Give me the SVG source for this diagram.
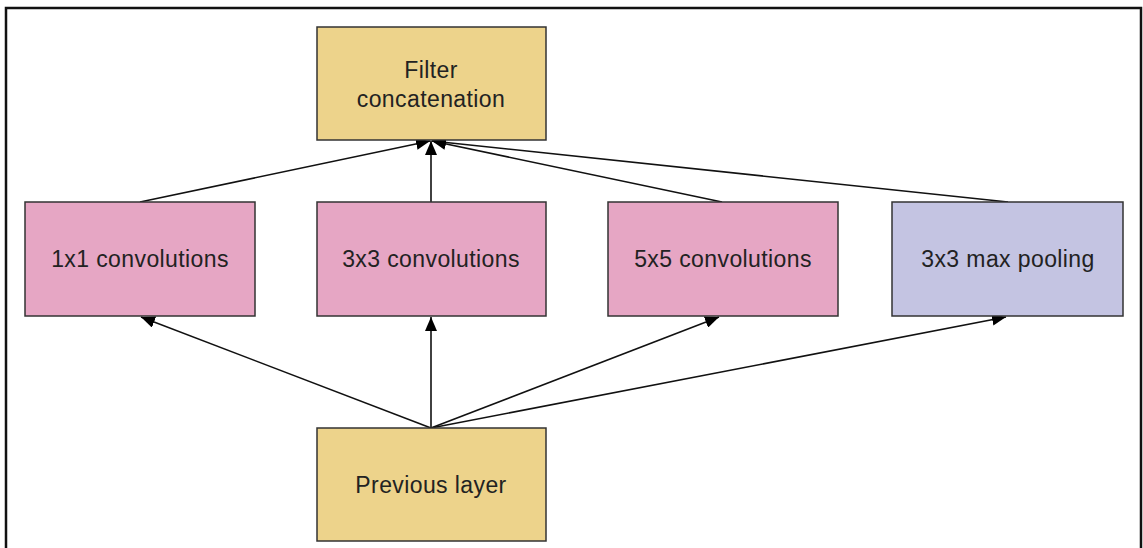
<svg xmlns="http://www.w3.org/2000/svg" width="1143" height="548" viewBox="0 0 1143 548">
<style>
.box{stroke:#333;stroke-width:1.5}
.gold{fill:#EDD38B}
.pink{fill:#E6A6C4}
.lav{fill:#C4C4E2}
.lbl{font-family:"Liberation Sans",Arial,sans-serif;font-size:23px;letter-spacing:0.4px;fill:#222;text-anchor:middle}
.edge{stroke:#111;stroke-width:1.6;fill:none;marker-end:url(#ah)}
</style>
<defs>
<marker id="ah" markerWidth="14" markerHeight="12" refX="14" refY="6" orient="auto" markerUnits="userSpaceOnUse">
<path d="M0,0 L14,6 L0,12 Z" fill="#000"/>
</marker>
</defs>
<rect width="1143" height="548" fill="#fff"/>
<path d="M6,549 V8 H1141 V549" fill="none" stroke="#111" stroke-width="2.5"/>
<g id="connectors">
<line class="edge" x1="140" y1="202" x2="430" y2="141"/>
<line class="edge" x1="431" y1="202" x2="431" y2="141"/>
<line class="edge" x1="722" y1="202" x2="432" y2="141"/>
<line class="edge" x1="1008" y1="202" x2="432" y2="141"/>
<line class="edge" x1="431" y1="428" x2="141" y2="317"/>
<line class="edge" x1="431" y1="428" x2="431" y2="317"/>
<line class="edge" x1="431" y1="428" x2="719" y2="317"/>
<line class="edge" x1="431" y1="428" x2="1006" y2="317"/>
</g>
<g id="filter-concat">
<rect class="box gold" x="317" y="27" width="229" height="113"/>
<text class="lbl" x="431" y="78">Filter</text>
<text class="lbl" x="431" y="107">concatenation</text>
</g>
<g id="conv1x1">
<rect class="box pink" x="25" y="202" width="230" height="114"/>
<text class="lbl" x="140" y="267">1x1 convolutions</text>
</g>
<g id="conv3x3">
<rect class="box pink" x="317" y="202" width="229" height="114"/>
<text class="lbl" x="431" y="267">3x3 convolutions</text>
</g>
<g id="conv5x5">
<rect class="box pink" x="608" y="202" width="230" height="114"/>
<text class="lbl" x="723" y="267">5x5 convolutions</text>
</g>
<g id="maxpool">
<rect class="box lav" x="892" y="202" width="231" height="114"/>
<text class="lbl" x="1008" y="267">3x3 max pooling</text>
</g>
<g id="previous-layer">
<rect class="box gold" x="317" y="428" width="229" height="113"/>
<text class="lbl" x="431" y="493">Previous layer</text>
</g>
</svg>
